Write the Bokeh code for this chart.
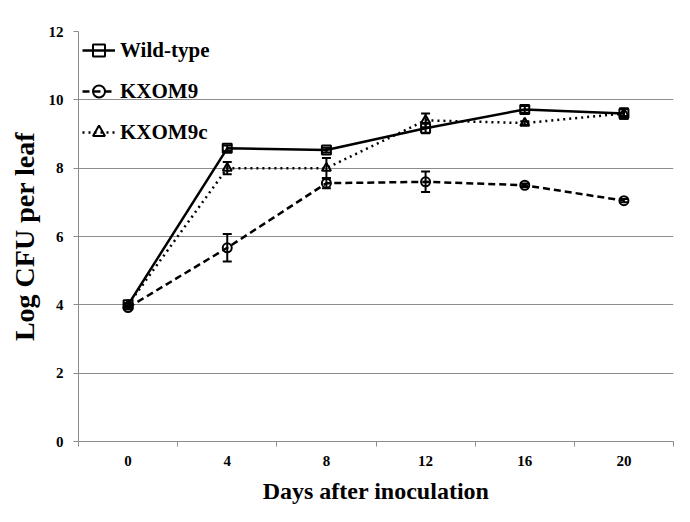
from bokeh.plotting import figure
from bokeh.models import FixedTicker, Range1d, Legend, LegendItem, Whisker, ColumnDataSource
from bokeh.embed import file_html
from bokeh.resources import INLINE

days = ["0", "4", "8", "12", "16", "20"]
wild_type = [4.0, 8.58, 8.53, 9.17, 9.72, 9.6]
wild_type_err = [0.05, 0.08, 0.07, 0.15, 0.1, 0.15]
kxom9 = [3.92, 5.67, 7.56, 7.6, 7.5, 7.05]
kxom9_err = [0.05, 0.4, 0.15, 0.3, 0.05, 0.05]
kxom9c = [4.0, 8.0, 8.0, 9.4, 9.32, 9.6]
kxom9c_err = [0.05, 0.18, 0.3, 0.2, 0.05, 0.15]
y_ticks = [0, 2, 4, 6, 8, 10, 12]

xpos = [i + 0.5 for i in range(len(days))]
gray = "#8c8c8c"
font = "Liberation Serif"

p = figure(width=674, height=506, output_backend="svg", toolbar_location=None,
           x_range=Range1d(0, len(days)), y_range=Range1d(0, 12),
           min_border_left=78, min_border_right=1, min_border_top=31, min_border_bottom=65)
p.outline_line_color = None
p.background_fill_color = "white"
p.xgrid.grid_line_color = None
p.ygrid.grid_line_color = gray
p.ygrid.grid_line_width = 1

p.yaxis.ticker = FixedTicker(ticks=y_ticks)
p.xaxis.ticker = FixedTicker(ticks=xpos, minor_ticks=list(range(len(days) + 1)))
p.xaxis.major_label_overrides = {x: d for x, d in zip(xpos, days)}
p.xaxis.minor_tick_line_color = gray
p.xaxis.minor_tick_out = 5
p.xaxis.minor_tick_in = 0
p.yaxis.minor_tick_line_color = None
p.yaxis.major_tick_out = 5
p.yaxis.major_tick_in = 0
for ax in (p.xaxis, p.yaxis):
    ax.axis_line_color = gray
    ax.major_label_text_font = font
    ax.major_label_text_font_style = "bold"
    ax.major_label_text_font_size = "15px"
    ax.major_label_text_color = "black"
    ax.axis_label_text_font = font
    ax.axis_label_text_font_style = "bold"
    ax.axis_label_text_color = "black"
p.yaxis.major_tick_line_color = gray
p.xaxis.major_tick_line_color = None
p.xaxis.major_label_standoff = 8
p.yaxis.major_label_standoff = 10
p.xaxis.axis_label = "Days after inoculation"
p.yaxis.axis_label = "Log CFU per leaf"
p.xaxis.axis_label_text_font_size = "24px"
p.yaxis.axis_label_text_font_size = "28px"
p.xaxis.axis_label_standoff = 9
p.yaxis.axis_label_standoff = 6

series = [
    ("Wild-type", wild_type, wild_type_err, "solid", "square"),
    ("KXOM9", kxom9, kxom9_err, "7 4", "circle"),
    ("KXOM9c", kxom9c, kxom9c_err, "2 4", "triangle"),
]
items = []
for name, vals, errs, dash, marker in series:
    src = ColumnDataSource(dict(x=xpos, y=vals,
                                lo=[v - e for v, e in zip(vals, errs)],
                                hi=[v + e for v, e in zip(vals, errs)]))
    ln = p.line("x", "y", source=src, line_color="black", line_width=2.5, line_dash=dash)
    sc = p.scatter("x", "y", source=src, marker=marker, size=9, line_color="black",
                   line_width=2, fill_color=None)
    w = Whisker(base="x", lower="lo", upper="hi", source=src, dimension="height",
                line_color="black", line_width=2)
    w.upper_head.size = 9
    w.lower_head.size = 9
    w.upper_head.line_width = 2
    w.lower_head.line_width = 2
    p.add_layout(w)
    items.append(LegendItem(label=name, renderers=[ln, sc]))

legend = Legend(items=items, location="top_left", margin=4, padding=0,
                background_fill_alpha=0, border_line_color=None,
                label_text_font=font, label_text_font_style="bold",
                label_text_font_size="21px", label_text_color="black",
                glyph_width=33, glyph_height=30, label_height=30,
                label_standoff=5, spacing=11)
p.add_layout(legend)

open("out.html", "w").write(file_html(p, INLINE))
